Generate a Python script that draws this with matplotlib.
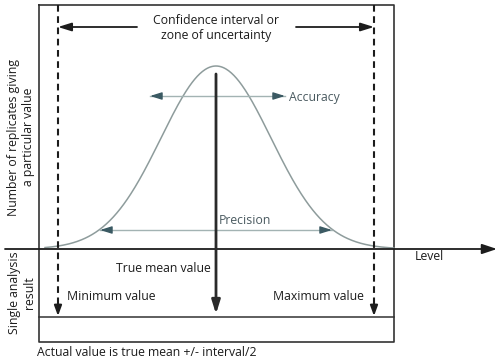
import numpy as np
import matplotlib
matplotlib.use("Agg")
import matplotlib.pyplot as plt

plt.rcParams['font.family'] = ['Open Sans', 'DejaVu Sans']

# Data (pixel-space schematic of a normal distribution)
curve_mean = 216
curve_sd = 55
curve_peak = 183
curve_range = (45, 394)
baseline_y = 249
ci_bounds = [58, 374]
texts_main = ["Confidence interval or\nzone of uncertainty", "Accuracy", "Precision",
              "Level", "True mean value", "Minimum value", "Maximum value",
              "Actual value is true mean +/- interval/2"]
ylabels = ["Number of replicates giving\na particular value", "Single analysis\nresult"]

fig = plt.figure(figsize=(5, 3.6), dpi=100)
ax = fig.add_axes([0, 0, 1, 1])
ax.set_xlim(0, 500)
ax.set_ylim(360, 0)
ax.axis('off')

dark = '#1c1c1c'
tealline = '#a3b3b3'
tealhead = '#3b5a63'
fs = 8.8

# outer box
ax.plot([39, 394, 394, 39, 39], [5, 5, 342, 342, 5], color='#333333', lw=1.2)
# inner horizontal line
ax.plot([39, 394], [317, 317], color='#333333', lw=1.1)

# Level axis arrow
ax.annotate('', xy=(497, baseline_y), xytext=(5, baseline_y),
            arrowprops=dict(arrowstyle='-|>,head_length=0.9,head_width=0.3', color=dark, lw=1.3,
                            shrinkA=0, shrinkB=0))

# Gaussian curve
xs = np.linspace(curve_range[0], curve_range[1], 400)
ys = baseline_y - curve_peak * np.exp(-0.5 * ((xs - curve_mean) / curve_sd) ** 2)
ax.plot(xs, ys, color='#8e9c9c', lw=1.1)

# dashed CI lines with arrows
for xb in ci_bounds:
    ax.plot([xb, xb], [5, 305], color=dark, lw=1.5, dashes=(3.2, 2.2))
    ax.annotate('', xy=(xb, 316), xytext=(xb, 303),
                arrowprops=dict(arrowstyle='-|>,head_length=0.6,head_width=0.22', color=dark, lw=1.5,
                                shrinkA=0, shrinkB=0))

# top arrows
ax.annotate('', xy=(ci_bounds[0], 27), xytext=(137, 27),
            arrowprops=dict(arrowstyle='-|>,head_length=0.8,head_width=0.25', color=dark, lw=1.3,
                            shrinkA=0, shrinkB=0))
ax.annotate('', xy=(ci_bounds[1], 27), xytext=(296, 27),
            arrowprops=dict(arrowstyle='-|>,head_length=0.8,head_width=0.25', color=dark, lw=1.3,
                            shrinkA=0, shrinkB=0))

# central true mean arrow
ax.annotate('', xy=(curve_mean, 314), xytext=(curve_mean, 74),
            arrowprops=dict(arrowstyle='-|>,head_length=0.8,head_width=0.25', color='#2a2a2a', lw=2.0,
                            shrinkA=0, shrinkB=0))

# accuracy double arrow
ax.plot([150, 285], [96, 96], color=tealline, lw=1.0)
for (x0, x1) in [(158, 150), (277, 285)]:
    ax.annotate('', xy=(x1, 96), xytext=(x0, 96),
                arrowprops=dict(arrowstyle='-|>,head_length=0.7,head_width=0.22', color=tealhead, lw=1.0,
                                shrinkA=0, shrinkB=0))

# precision double arrow
ax.plot([100, 332], [230, 230], color=tealline, lw=1.0)
for (x0, x1) in [(108, 100), (324, 332)]:
    ax.annotate('', xy=(x1, 230), xytext=(x0, 230),
                arrowprops=dict(arrowstyle='-|>,head_length=0.7,head_width=0.22', color=tealhead, lw=1.0,
                                shrinkA=0, shrinkB=0))

# texts
ax.text(216, 28, texts_main[0], ha='center', va='center', fontsize=fs, color=dark, linespacing=1.25)
ax.text(289, 98, texts_main[1], ha='left', va='center', fontsize=fs, color='#4a5a60')
ax.text(245, 220, texts_main[2], ha='center', va='center', fontsize=fs, color='#4a5a60')
ax.text(429, 257, texts_main[3], ha='center', va='center', fontsize=fs, color=dark)
ax.text(163, 269, texts_main[4], ha='center', va='center', fontsize=fs, color=dark)
ax.text(67, 296, texts_main[5], ha='left', va='center', fontsize=fs, color=dark)
ax.text(364, 296, texts_main[6], ha='right', va='center', fontsize=fs, color=dark)
ax.text(37, 352, texts_main[7], ha='left', va='center', fontsize=fs, color=dark)
ax.text(21, 137, ylabels[0], ha='center', va='center', rotation=90, fontsize=fs, color=dark, linespacing=1.15)
ax.text(22, 293, ylabels[1], ha='center', va='center', rotation=90, fontsize=fs, color=dark, linespacing=1.15)

fig.savefig('out.png', dpi=100)
